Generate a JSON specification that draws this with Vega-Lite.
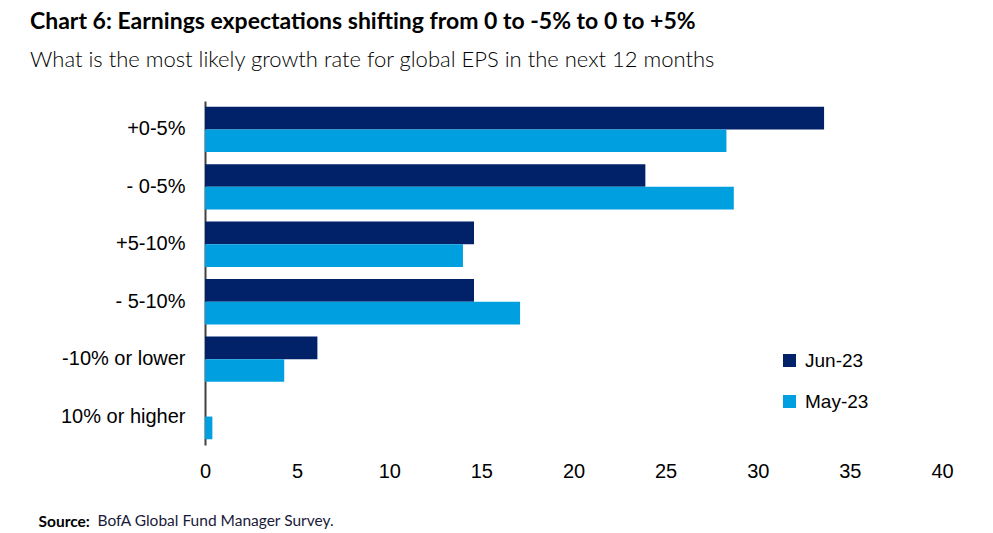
{
  "$schema": "https://vega.github.io/schema/vega-lite/v6.json",
  "width": 737,
  "height": 344,
  "autosize": "none",
  "padding": {"left": 205, "top": 101, "right": 51, "bottom": 88},
  "background": "white",
  "title": {
    "text": "Chart 6: Earnings expectations shifting from 0 to -5% to 0 to +5%",
    "subtitle": "What is the most likely growth rate for global EPS in the next 12 months",
    "anchor": "start",
    "frame": "group",
    "dx": -175,
    "offset": 30,
    "font": "Lato",
    "fontSize": 23,
    "fontWeight": "bold",
    "color": "#000000",
    "subtitleFont": "Lato",
    "subtitleFontSize": 22,
    "subtitleFontWeight": 300,
    "subtitleColor": "#000000",
    "subtitlePadding": 16
  },
  "data": {
    "values": [
      {"category": "+0-5%", "series": "Jun-23", "value": 33.6},
      {"category": "+0-5%", "series": "May-23", "value": 28.3},
      {"category": "- 0-5%", "series": "Jun-23", "value": 23.9},
      {"category": "- 0-5%", "series": "May-23", "value": 28.7},
      {"category": "+5-10%", "series": "Jun-23", "value": 14.6},
      {"category": "+5-10%", "series": "May-23", "value": 14.0},
      {"category": "- 5-10%", "series": "Jun-23", "value": 14.6},
      {"category": "- 5-10%", "series": "May-23", "value": 17.1},
      {"category": "-10% or lower", "series": "Jun-23", "value": 6.1},
      {"category": "-10% or lower", "series": "May-23", "value": 4.3},
      {"category": "10% or higher", "series": "Jun-23", "value": 0},
      {"category": "10% or higher", "series": "May-23", "value": 0.4}
    ]
  },
  "mark": {"type": "bar"},
  "encoding": {
    "y": {
      "field": "category",
      "type": "nominal",
      "sort": ["+0-5%", "- 0-5%", "+5-10%", "- 5-10%", "-10% or lower", "10% or higher"],
      "scale": {"paddingInner": 0.21, "paddingOuter": 0.1},
      "axis": {
        "title": "Source:",
        "titleAngle": 0,
        "titleAlign": "left",
        "titleBaseline": "alphabetic",
        "titleX": -167,
        "titleY": 425,
        "titleFont": "Lato",
        "titleFontSize": 15.5,
        "titleFontWeight": "bold",
        "titleColor": "#000000",
        "ticks": false,
        "labelPadding": 20,
        "labelFont": "Liberation Sans",
        "labelFontSize": 20,
        "labelColor": "#000000",
        "domainColor": "#404040",
        "domainWidth": 2
      }
    },
    "yOffset": {
      "field": "series",
      "type": "nominal",
      "sort": ["Jun-23", "May-23"]
    },
    "x": {
      "field": "value",
      "type": "quantitative",
      "scale": {"domain": [0, 40], "nice": false},
      "axis": {
        "values": [0, 5, 10, 15, 20, 25, 30, 35, 40],
        "grid": false,
        "ticks": false,
        "domain": false,
        "labelFlush": false,
        "labelPadding": 16,
        "labelFont": "Liberation Sans",
        "labelFontSize": 20,
        "labelColor": "#000000",
        "title": "BofA Global Fund Manager Survey.",
        "titleAnchor": "start",
        "titleAlign": "left",
        "titleBaseline": "alphabetic",
        "titleX": -108,
        "titleY": 80,
        "titleFont": "Lato",
        "titleFontSize": 15.5,
        "titleFontWeight": "normal",
        "titleColor": "#1a1a3a"
      }
    },
    "color": {
      "field": "series",
      "type": "nominal",
      "sort": ["Jun-23", "May-23"],
      "scale": {"domain": ["Jun-23", "May-23"], "range": ["#012169", "#00A0E0"]},
      "legend": {
        "title": null,
        "orient": "none",
        "legendX": 575,
        "legendY": 250,
        "symbolType": "square",
        "symbolSize": 170,
        "symbolStrokeWidth": 0,
        "rowPadding": 21,
        "labelFont": "Liberation Sans",
        "labelFontSize": 19,
        "labelColor": "#000000",
        "labelOffset": 6
      }
    }
  },
  "config": {"view": {"stroke": null}}
}
